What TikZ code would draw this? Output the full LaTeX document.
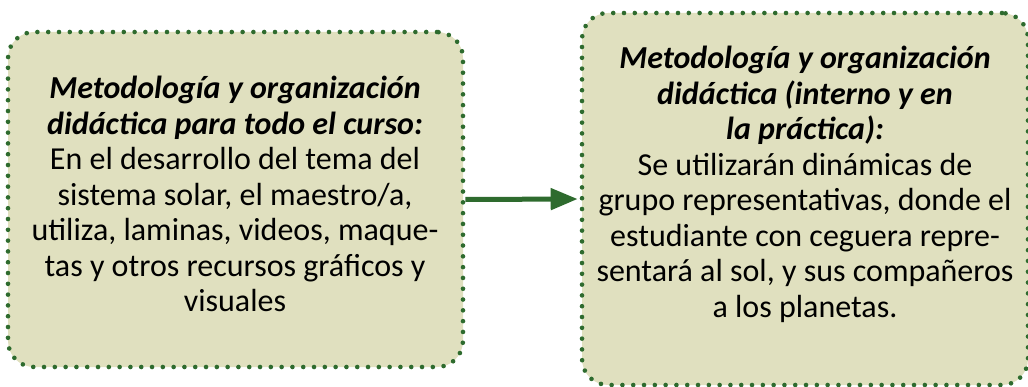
\documentclass[tikz,border=0pt]{standalone}
\usepackage{fontspec}
\setmainfont{Carlito}
\usepackage{xcolor}
\usetikzlibrary{positioning,arrows.meta}
\definecolor{metodofill}{HTML}{E0E0BF}
\definecolor{metodogreen}{HTML}{2E6B2E}
\tikzset{
    metodobox/.style={draw=metodogreen, fill=metodofill, rounded corners=26pt, line width=4.6pt, line cap=round, dash pattern=on 0pt off 10.8pt, inner sep=0pt},
    metodotext/.style={align=center, inner sep=0pt, font=\fontsize{32}{35.5}\selectfont},
    metodoarrow/.style={draw=metodogreen, line width=5pt, -{Triangle[length=27pt, width=21pt]}, shorten >=2pt}
}
\newcommand{\metodohead}[1]{\textbf{\textit{#1}}}

\begin{document}
\begin{tikzpicture}[x=1pt, y=-1pt]
    \useasboundingbox (0,0) rectangle (1028,387);
    \node[metodobox, minimum width=455pt, minimum height=335pt] (leftbox) at (235.5,199.5) {};
    \node[metodobox, minimum width=446pt, minimum height=372pt] (rightbox) at (805,199) {};

    \node[metodotext] (lefttext) at (235,194) {\metodohead{Metodología y organización}\\
        \metodohead{didáctica para todo el curso:}\\
        En el desarrollo del tema del\\
        sistema solar, el maestro/a,\\
        utiliza, laminas, videos, maque-\\
        tas y otros recursos gráficos y\\
        visuales};
    \node[metodotext] (righttext) at (805,184.5) {\metodohead{Metodología y organización}\\
        \metodohead{didáctica (interno y en}\\
        \metodohead{la práctica):}\\
        Se utilizarán dinámicas de\\
        grupo representativas, donde el\\
        estudiante con ceguera repre-\\
        sentará al sol, y sus compañeros\\
        a los planetas.};

    \draw[metodoarrow] (leftbox.east) -- (rightbox.west);
\end{tikzpicture}
\end{document}
